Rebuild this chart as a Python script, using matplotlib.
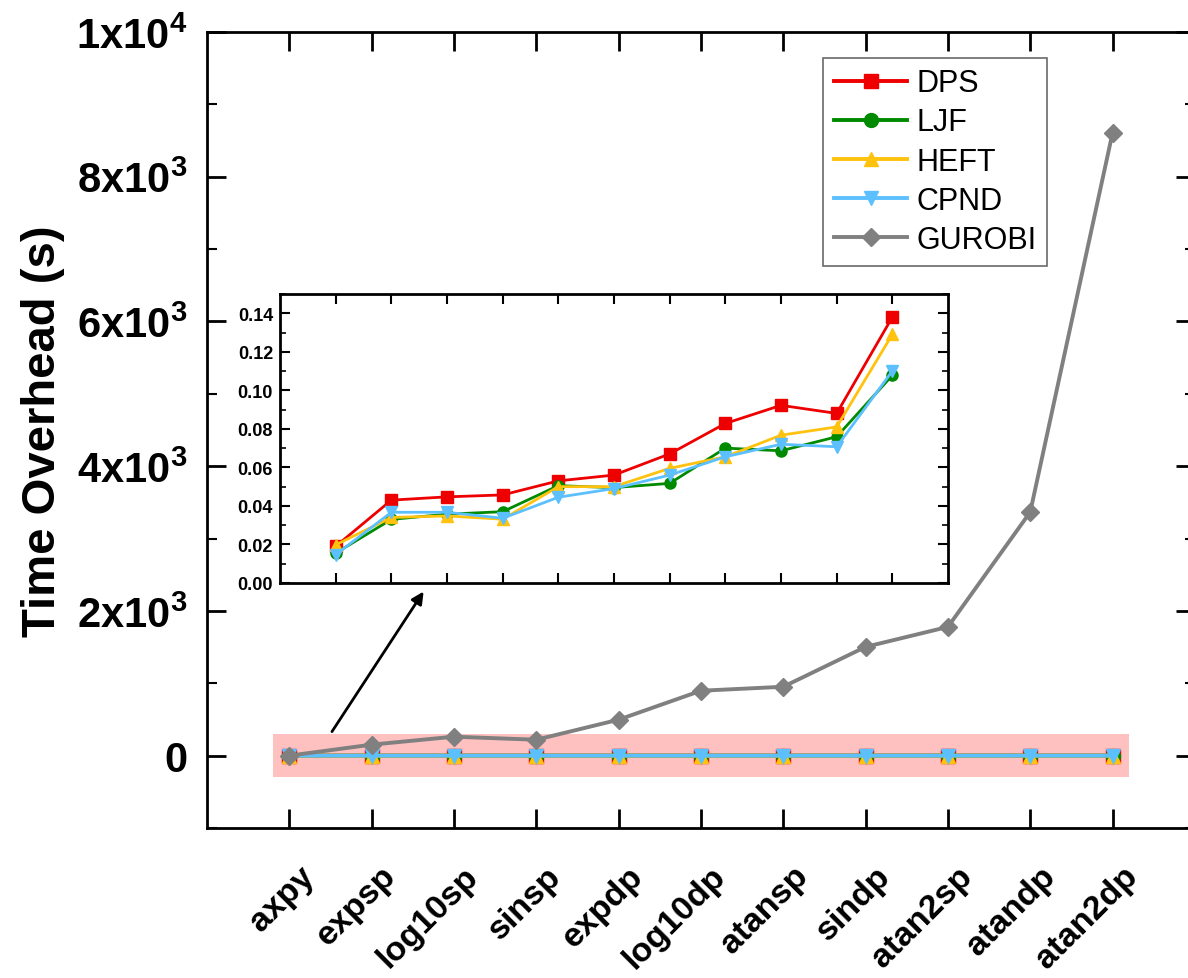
import numpy as np
import matplotlib
matplotlib.use('Agg')
import matplotlib.pyplot as plt
import matplotlib.transforms as mtransforms
from matplotlib.ticker import MultipleLocator
from matplotlib.patches import Rectangle

plt.rcParams['font.family'] = ['Liberation Sans', 'DejaVu Sans']
plt.rcParams['mathtext.fontset'] = 'custom'
plt.rcParams['mathtext.rm'] = 'Liberation Sans:bold'
plt.rcParams['mathtext.bf'] = 'Liberation Sans:bold'
plt.rcParams['mathtext.default'] = 'bf'

cats = ['axpy', 'expsp', 'log10sp', 'sinsp', 'expdp', 'log10dp',
        'atansp', 'sindp', 'atan2sp', 'atandp', 'atan2dp']

dps = [0.019, 0.043, 0.0447, 0.0457, 0.053, 0.056, 0.067, 0.0828, 0.0922, 0.088, 0.138]
ljf = [0.0155, 0.033, 0.0357, 0.037, 0.0505, 0.0495, 0.0517, 0.070, 0.0686, 0.0759, 0.1078]
heft = [0.0198, 0.034, 0.0348, 0.0331, 0.050, 0.050, 0.0595, 0.0655, 0.0767, 0.081, 0.129]
cpnd = [0.0147, 0.0367, 0.0367, 0.0336, 0.0445, 0.049, 0.056, 0.0655, 0.072, 0.0707, 0.110]
gurobi = [0, 152, 262, 220, 497, 897, 952, 1503, 1779, 3366, 8607]

names = ['DPS', 'LJF', 'HEFT', 'CPND', 'GUROBI']
colors = ['#ee0000', '#008a00', '#ffc20e', '#5cc0ff', '#808080']
markers = ['s', 'o', '^', 'v', 'D']
series = [dps, ljf, heft, cpnd, gurobi]

x = np.arange(len(cats))

fig = plt.figure(figsize=(11.88, 9.79), dpi=100)
ax = fig.add_axes([0.1742, 0.1532, 0.8316, 0.8131])

# highlight band around zero
ax.add_patch(Rectangle((-0.2, -300), 10.4, 600, facecolor='#ffc0c0', edgecolor='none', zorder=1))

for name, c, m, s in zip(names, colors, markers, series):
    ms = 10 if m != 'D' else 9
    ax.plot(x, s, color=c, marker=m, markersize=ms, lw=2.8, label=name, zorder=3)

ax.set_xlim(-1, 11)
ax.set_ylim(-1000, 10000)
ax.set_xticks(x)
ax.set_xticklabels([])
# category labels, rotated, placed a bit right of / below each tick
lab_tr = ax.get_xaxis_transform() + mtransforms.ScaledTranslation(0.2, -0.43, fig.dpi_scale_trans)
for xi, name in zip(x, cats):
    ax.text(xi, 0, name, transform=lab_tr, rotation=45, ha='right', va='center',
            rotation_mode='anchor', fontsize=24.5, fontweight='bold', clip_on=False)

yt = [0, 2000, 4000, 6000, 8000, 10000]
ylab = ['0', '2x10$^3$', '4x10$^3$', '6x10$^3$', '8x10$^3$', '1x10$^4$']
ax.set_yticks(yt)
ax.set_yticklabels(ylab, fontsize=30, fontweight='bold')
ax.yaxis.set_minor_locator(MultipleLocator(1000))
ax.tick_params(axis='both', which='major', direction='in', length=14, width=2,
               top=True, right=True)
ax.tick_params(axis='y', which='minor', direction='in', length=7, width=1.5, right=True)
ax.tick_params(axis='y', which='major', pad=14)
for sp in ax.spines.values():
    sp.set_linewidth(2)
ax.set_ylabel('Time Overhead (s)', fontsize=34, fontweight='bold', labelpad=8)

leg = ax.legend(loc='upper left', bbox_to_anchor=(0.6085, 0.987), fontsize=22,
                frameon=True, fancybox=False, edgecolor='#444444', handlelength=2.4,
                borderpad=0.35, labelspacing=0.3, handletextpad=0.3)
leg.get_frame().set_linewidth(1.2)

ax.annotate('', xy=(1.65, 2300), xytext=(0.5, 300),
            arrowprops=dict(arrowstyle='-|>', color='black', lw=2, mutation_scale=18),
            zorder=5)

# inset
ins = fig.add_axes([0.2357, 0.4035, 0.5623, 0.2952])
for name, c, m, s in zip(names[:4], colors[:4], markers[:4], series[:4]):
    ins.plot(x, s, color=c, marker=m, markersize=8, lw=2)
ins.set_xlim(-1, 11)
ins.set_ylim(0, 0.15)
ins.set_xticks(x)
ins.set_xticklabels([])
ins.set_yticks(np.arange(0, 0.141, 0.02))
ins.set_yticklabels(['%.2f' % v for v in np.arange(0, 0.141, 0.02)],
                    fontsize=13, fontweight='bold')
ins.yaxis.set_minor_locator(MultipleLocator(0.01))
ins.tick_params(axis='both', which='major', direction='in', length=7, width=1.5,
                top=True, right=True)
ins.tick_params(axis='y', which='minor', direction='in', length=4, width=1.2, right=True)
ins.tick_params(axis='y', which='major', pad=5)
for sp in ins.spines.values():
    sp.set_linewidth(2)

fig.savefig('out.png', dpi=100)
